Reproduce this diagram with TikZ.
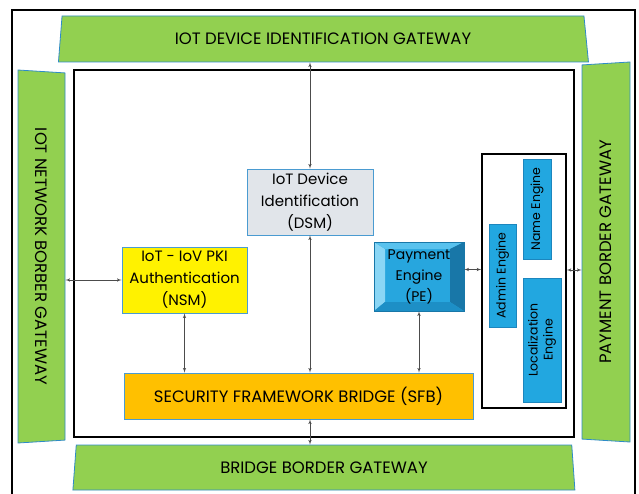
\documentclass[tikz,border=0pt]{standalone}
\usepackage{fontspec}
\setmainfont{Poppins}
\usepackage{tikz}
\usetikzlibrary{shapes,arrows}
\definecolor{gwgreen}{HTML}{92D050}
\definecolor{gwline}{HTML}{2E8BC8}
\definecolor{boxline}{HTML}{4A9BD1}
\definecolor{dsmgray}{HTML}{E1E5EA}
\definecolor{sfborange}{HTML}{FFC000}
\definecolor{engblue}{HTML}{22A7E0}
\definecolor{engline}{HTML}{1C86BE}
\definecolor{peblue}{HTML}{27A6DE}
\definecolor{pelight}{HTML}{8AD6F5}
\definecolor{petop}{HTML}{58C2EE}
\definecolor{pedark}{HTML}{1877A8}
\definecolor{pebot}{HTML}{1D8FC6}
\tikzstyle{gateway} = [trapezium, trapezium stretches body, draw=gwline, fill=gwgreen,
    line width=0.8pt, inner sep=0pt, font=\fontsize{16.5}{20}\selectfont]
\tikzstyle{block} = [rectangle, draw=boxline, line width=0.8pt, align=center,
    inner sep=0pt, font=\fontsize{15}{22}\selectfont]
\tikzstyle{engine} = [rectangle, draw=engline, fill=engblue, line width=0.6pt, rotate=90,
    align=center, inner sep=0pt, font=\fontsize{12.5}{15}\selectfont]
\tikzstyle{bevel} = [rectangle, draw=pedark, fill=peblue, line width=0.6pt, align=center,
    inner sep=0pt, font=\fontsize{14}{21}\selectfont,
    path picture={
      \path (path picture bounding box.north west) coordinate (nw)
            (path picture bounding box.north east) coordinate (ne)
            (path picture bounding box.south east) coordinate (se)
            (path picture bounding box.south west) coordinate (sw);
      \fill[pelight] (nw) -- (sw) -- ([shift={(11pt,9pt)}]sw) -- ([shift={(11pt,-7pt)}]nw) -- cycle;
      \fill[petop] (nw) -- (ne) -- ([shift={(-14pt,-7pt)}]ne) -- ([shift={(11pt,-7pt)}]nw) -- cycle;
      \fill[pedark] (ne) -- (se) -- ([shift={(-14pt,9pt)}]se) -- ([shift={(-14pt,-7pt)}]ne) -- cycle;
      \fill[pebot] (sw) -- (se) -- ([shift={(-14pt,9pt)}]se) -- ([shift={(11pt,9pt)}]sw) -- cycle;
    }]
\tikzstyle{link} = [latex'-latex', draw=gray!60!black, line width=0.6pt]

\begin{document}
\begin{tikzpicture}[x=1pt, y=-1pt]
		\useasboundingbox (0,0) rectangle (639,494);
		\clip (0,0) rectangle (639,494);
		\draw [line width=1.2pt] (12,10) rectangle (635,500);
		\draw [line width=1.5pt] (74,70) rectangle (574,437);
		
		\node [gateway, minimum width=530, minimum height=46, trapezium left angle=73,
			trapezium right angle=69] (topgw) at (323,39) {IOT DEVICE IDENTIFICATION GATEWAY};
		\node [gateway, minimum width=502, minimum height=45, trapezium left angle=74,
			trapezium right angle=75] (botgw) at (324,467.5) {BRIDGE BORDER GATEWAY};
		\node [gateway, rotate=-90, minimum width=373, minimum height=47,
			trapezium angle=76] (netgw) at (41.5,256.5) {IOT NETWORK BORBER GATEWAY};
		\node [gateway, rotate=90, minimum width=380, minimum height=48,
			trapezium angle=76] (paygw) at (606,252) {PAYMENT BORDER GATEWAY};
		
		\node [block, fill=dsmgray, minimum width=126, minimum height=66] (dsm) at (310,202) {IoT Device\\
			Identification\\ (DSM)};
		\node [block, fill=yellow, minimum width=125, minimum height=66] (nsm) at (184.5,280) {IoT - IoV PKI\\
			Authentication\\ (NSM)};
		\node [bevel, minimum width=90, minimum height=69] (pe) at (419,276.5) {Payment\\
			Engine\\ (PE)};
		\node [block, fill=sfborange, minimum width=349, minimum height=46,
			font=\fontsize{16.5}{20}\selectfont] (sfb) at (298.5,396) {SECURITY FRAMEWORK BRIDGE (SFB)};
		
		\node [draw, line width=1.5pt, minimum width=84, minimum height=254] (eng) at (524,281) {};
		\node [engine, minimum width=103, minimum height=27] (admin) at (502.5,275.5) {Admin Engine};
		\node [engine, minimum width=100, minimum height=28] (name) at (537,209) {Name Engine};
		\node [engine, minimum width=124, minimum height=38] (local) at (542,340) {Localization\\ Engine};
		
		\draw [link] (dsm.north) -- (dsm.north |- topgw.south);
		\draw [link] (dsm.south) -- (dsm.south |- sfb.north);
		\draw [link] (nsm.south) -- (nsm.south |- sfb.north);
		\draw [link] (pe.south) -- (pe.south |- sfb.north);
		\draw [link] (sfb.south -| dsm.south) -- (botgw.north -| dsm.south);
		\draw [link] (nsm.west) -- (nsm.west -| netgw.north);
		\draw [link] ([yshift=7pt]pe.east) -- ([yshift=7pt]pe.east -| eng.west);
		\draw [link] ([yshift=11pt]eng.east) -- ([yshift=11pt]eng.east -| paygw.north);
		
\end{tikzpicture}
\end{document}
